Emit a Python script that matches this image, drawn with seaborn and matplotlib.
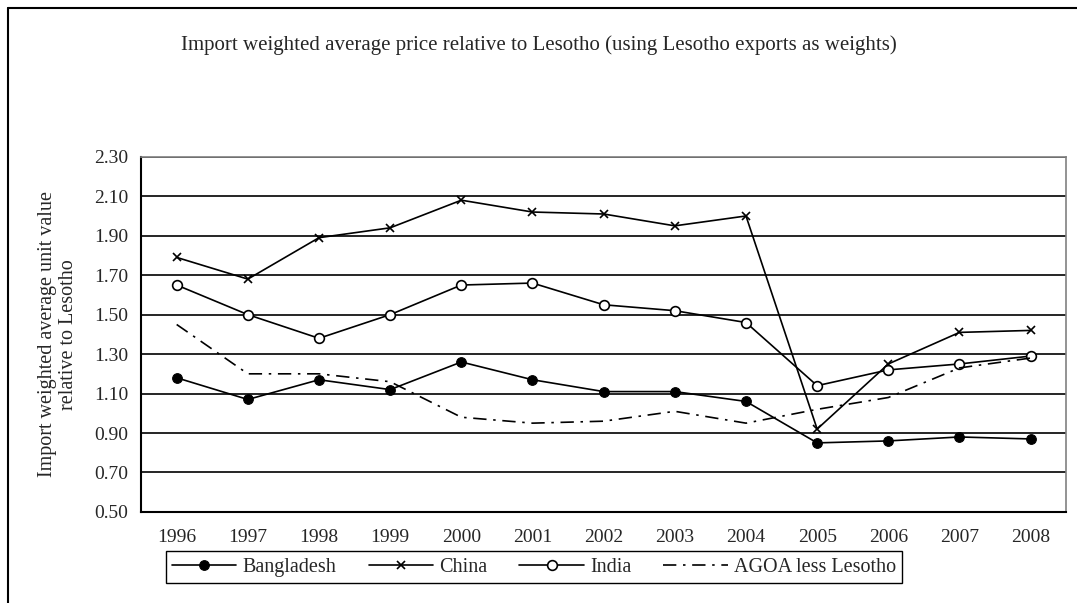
import numpy as np
import pandas as pd
import matplotlib.pyplot as plt
import seaborn as sns
from matplotlib.lines import Line2D

# Data
years = ["1996", "1997", "1998", "1999", "2000", "2001", "2002",
         "2003", "2004", "2005", "2006", "2007", "2008"]
bangladesh = [1.18, 1.07, 1.17, 1.12, 1.26, 1.17, 1.11, 1.11, 1.06, 0.85, 0.86, 0.88, 0.87]
china = [1.79, 1.68, 1.89, 1.94, 2.08, 2.02, 2.01, 1.95, 2.00, 0.92, 1.25, 1.41, 1.42]
india = [1.65, 1.50, 1.38, 1.50, 1.65, 1.66, 1.55, 1.52, 1.46, 1.14, 1.22, 1.25, 1.29]
agoa = [1.45, 1.20, 1.20, 1.16, 0.98, 0.95, 0.96, 1.01, 0.95, 1.02, 1.08, 1.23, 1.28]
y_ticks = [0.50, 0.70, 0.90, 1.10, 1.30, 1.50, 1.70, 1.90, 2.10, 2.30]

sns.set_style("white")
plt.rcParams['font.family'] = ['Liberation Serif', 'DejaVu Serif']

df = pd.DataFrame({"Year": years, "Bangladesh": bangladesh, "China": china,
                   "India": india, "AGOA less Lesotho": agoa})

fig = plt.figure(figsize=(10.77, 6.03), dpi=100)
ax = fig.add_axes([0.131, 0.151, 0.859, 0.589])

# gridlines
for v in y_ticks[1:]:
    ax.axhline(v, color="black", lw=1.2, zorder=0)

sns.lineplot(data=df, x="Year", y="Bangladesh", ax=ax, color="black", lw=1.2,
             marker="o", markersize=7, markerfacecolor="black",
             markeredgecolor="black", label="Bangladesh", sort=False)
sns.lineplot(data=df, x="Year", y="China", ax=ax, color="black", lw=1.2,
             marker="x", markersize=6, markeredgewidth=1.2,
             markeredgecolor="black", label="China", sort=False)
sns.lineplot(data=df, x="Year", y="India", ax=ax, color="black", lw=1.2,
             marker="o", markersize=7, markerfacecolor="white",
             markeredgecolor="black", markeredgewidth=1.2, label="India", sort=False)
sns.lineplot(data=df, x="Year", y="AGOA less Lesotho", ax=ax, color="black",
             lw=1.2, label="AGOA less Lesotho", sort=False)
ax.lines[-1].set_dashes([8, 4, 1.5, 4])

ax.set_xlim(-0.5, len(years) - 0.5)
ax.set_ylim(0.5, 2.3)
ax.set_yticks(y_ticks)
ax.set_yticklabels([f"{v:.2f}" for v in y_ticks], fontsize=14)
ax.set_xticks(range(len(years)))
ax.set_xticklabels(years, fontsize=14)
ax.set_xticks(np.arange(-0.5, len(years), 1), minor=True)
ax.tick_params(axis="x", which="major", length=0, pad=12)
ax.tick_params(axis="x", which="minor", length=5, width=1, color="black", direction="out")
ax.tick_params(axis="y", length=5, width=1, color="black", direction="out", pad=4)
ax.set_xlabel("")
ax.set_ylabel("Import weighted average unit value\nrelative to Lesotho", fontsize=14.5,
              labelpad=12, linespacing=1.1)

for side in ["left", "bottom"]:
    ax.spines[side].set_color("black")
    ax.spines[side].set_linewidth(1.5)
for side in ["top", "right"]:
    ax.spines[side].set_color("#808080")
    ax.spines[side].set_linewidth(1.2)

fig.text(0.5, 1 - 45 / 603, "Import weighted average price relative to Lesotho "
         "(using Lesotho exports as weights)", ha="center", va="center", fontsize=15)

handles, labels = ax.get_legend_handles_labels()
handles[3] = Line2D([], [], color="black", lw=1.2, dashes=[8, 4, 1.5, 4])
ax.legend(handles, labels, loc="center", bbox_to_anchor=(534 / 1077, 1 - 567 / 603),
          bbox_transform=fig.transFigure, ncol=4, frameon=True, fancybox=False,
          edgecolor="black", fontsize=14.5, handlelength=3.2, columnspacing=1.6,
          handletextpad=0.3, borderpad=0.3, framealpha=1)
ax.get_legend().get_frame().set_linewidth(1)

# outer chart border (top and left)
fig.add_artist(Line2D([8 / 1077, 8 / 1077], [0, 1 - 8 / 603], color="black", lw=1.5,
                      transform=fig.transFigure))
fig.add_artist(Line2D([8 / 1077, 1], [1 - 8 / 603, 1 - 8 / 603], color="black", lw=1.5,
                      transform=fig.transFigure))

fig.savefig("out.png", dpi=100)
